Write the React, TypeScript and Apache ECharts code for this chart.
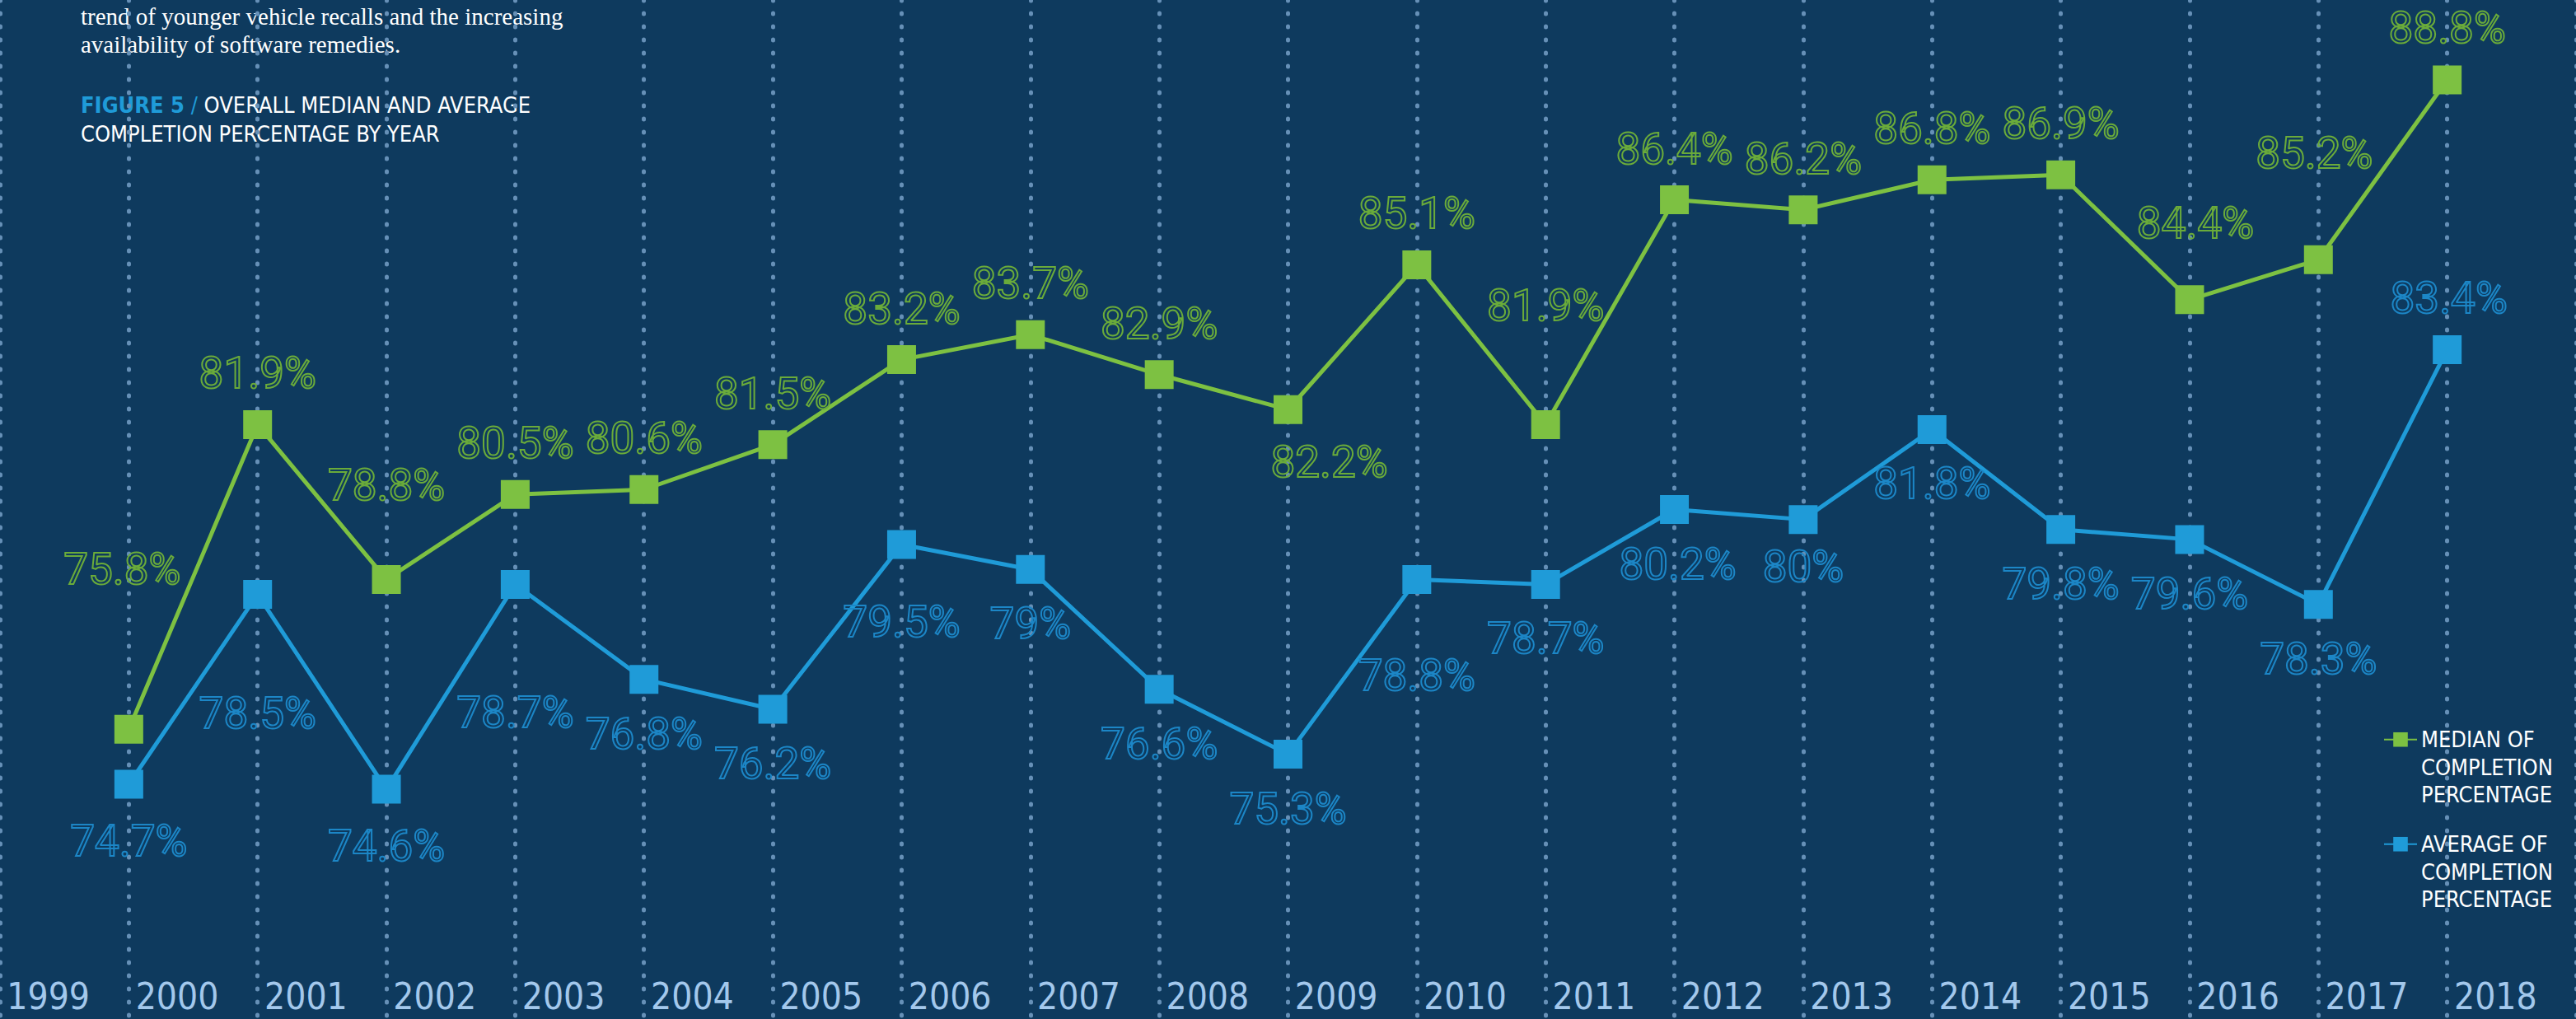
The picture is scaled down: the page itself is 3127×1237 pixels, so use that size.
import React, { useEffect, useRef } from 'react';
import * as echarts from 'echarts';

// ---- data ----
const years = ['1999', '2000', '2001', '2002', '2003', '2004', '2005', '2006', '2007', '2008', '2009', '2010', '2011', '2012', '2013', '2014', '2015', '2016', '2017', '2018'];
const median = [75.8, 81.9, 78.8, 80.5, 80.6, 81.5, 83.2, 83.7, 82.9, 82.2, 85.1, 81.9, 86.4, 86.2, 86.8, 86.9, 84.4, 85.2, 88.8];
const average = [74.7, 78.5, 74.6, 78.7, 76.8, 76.2, 79.5, 79, 76.6, 75.3, 78.8, 78.7, 80.2, 80, 81.8, 79.8, 79.6, 78.3, 83.4];
const medianName = 'MEDIAN OF\nCOMPLETION\nPERCENTAGE';
const averageName = 'AVERAGE OF\nCOMPLETION\nPERCENTAGE';

// ---- label placement (style) ----
const medianLabelDx = [-8, 0, 0, 0, 0, 0, 0, 0, 0, 50, 0, 0, 0, 0, 0, 0, 7, -5, 0];
const medianLabelDy = [-194, -62, -114, -62, -62, -62, -62, -62, -62, 64, -62, -144, -62, -62, -62, -62, -93, -129, -63];
const averageLabelDx = [0, 0, 0, 0, 0, 0, 0, 0, 0, 0, 0, 0, 4, 0, 0, 0, 0, 0, 2];
const averageLabelDy = [69, 144, 69, 156, 66, 66, 94, 66, 66, 66, 117, 66, 66, 57, 66, 66, 66, 66, -62];

// ---- styles ----
const BG = '#0e3a5e';
const GREEN = '#7dc142';
const GREEN_TEXT = '#6aab3a';
const BLUE = '#1f9bd8';
const BLUE_TEXT = '#1c86c6';
const DOT = '#6690b7';
const YEAR_COLOR = '#a3c8ec';
const NARROW = '"Liberation Sans Narrow", "DejaVu Sans Condensed", sans-serif';
const LABEL_FONT = 'Roboto, "DejaVu Sans", sans-serif';

function makeSeries(name: string, values: number[], dx: number[], dy: number[], color: string, textColor: string) {
  return {
    name,
    type: 'line',
    xAxisIndex: 1,
    yAxisIndex: 0,
    data: values.map((v, i) => ({
      value: [i + 1, v],
      label: { offset: [dx[i], dy[i]] },
    })),
    symbol: 'rect',
    symbolSize: 35,
    lineStyle: { color, width: 5 },
    itemStyle: { color },
    label: {
      show: true,
      position: 'inside',
      formatter: (p: any) => p.value[1] + '%',
      color: 'transparent',
      textBorderColor: textColor,
      textBorderWidth: 2,
      fontFamily: LABEL_FONT,
      fontSize: 53,
    },
    emphasis: { disabled: true },
  };
}

export default function App() {
  const ref = useRef<HTMLDivElement>(null);

  useEffect(() => {
    document.body.style.margin = '0';
    const chart = echarts.init(ref.current!, null, { renderer: 'svg' });
    const option: any = {
      animation: false,
      backgroundColor: BG,
      grid: { left: 0, right: -39, top: 0, bottom: -5, containLabel: false },
      xAxis: [
        {
          type: 'category',
          data: years,
          boundaryGap: true,
          position: 'bottom',
          axisLine: { show: false },
          axisTick: { show: false },
          splitLine: {
            show: true,
            interval: 0,
            lineStyle: { color: DOT, width: 5, type: [1, 15], cap: 'round' },
          },
          axisLabel: {
            inside: true,
            interval: 0,
            margin: 28,
            verticalAlign: 'middle',
            color: YEAR_COLOR,
            fontFamily: NARROW,
            fontSize: 44,
            padding: [0, 39, 0, 0],
          },
        },
        { type: 'value', min: 0, max: years.length, show: false },
      ],
      yAxis: [{ type: 'value', min: 70, max: 90.4, show: false }],
      legend: {
        orient: 'vertical',
        left: 2893,
        top: 814,
        padding: 0,
        itemGap: -40.5,
        itemWidth: 40,
        itemHeight: 22,
        selectedMode: false,
        data: [medianName, averageName],
        formatter: (name: string) => '\n\n' + name,
        textStyle: {
          color: '#ffffff',
          fontFamily: NARROW,
          fontSize: 27,
          lineHeight: 33.5,
        },
      },
      graphic: [
        {
          type: 'text',
          x: 98,
          y: 19.5,
          style: {
            text: 'trend of younger vehicle recalls and the increasing',
            fill: '#ffffff',
            fontFamily: '"Liberation Serif", serif',
            fontSize: 29,
            verticalAlign: 'middle',
            align: 'left',
          },
        },
        {
          type: 'text',
          x: 98,
          y: 53.5,
          style: {
            text: 'availability of software remedies.',
            fill: '#ffffff',
            fontFamily: '"Liberation Serif", serif',
            fontSize: 29,
            verticalAlign: 'middle',
            align: 'left',
          },
        },
        {
          type: 'text',
          x: 98,
          y: 127,
          style: {
            text: '{f|FIGURE 5} {s|/} {w|OVERALL MEDIAN AND AVERAGE}',
            verticalAlign: 'middle',
            align: 'left',
            rich: {
              f: { fill: BLUE, fontFamily: NARROW, fontSize: 27, fontWeight: 'bold' },
              s: { fill: BLUE, fontFamily: NARROW, fontSize: 27 },
              w: { fill: '#ffffff', fontFamily: NARROW, fontSize: 27 },
            },
            fill: '#ffffff',
            fontFamily: NARROW,
            fontSize: 27,
          },
        },
        {
          type: 'text',
          x: 98,
          y: 162,
          style: {
            text: 'COMPLETION PERCENTAGE BY YEAR',
            fill: '#ffffff',
            fontFamily: NARROW,
            fontSize: 27,
            verticalAlign: 'middle',
            align: 'left',
          },
        },
      ],
      series: [
        makeSeries(medianName, median, medianLabelDx, medianLabelDy, GREEN, GREEN_TEXT),
        makeSeries(averageName, average, averageLabelDx, averageLabelDy, BLUE, BLUE_TEXT),
      ],
    };
    chart.setOption(option);
    return () => chart.dispose();
  }, []);

  return (
    <div
      ref={ref}
      style={{ position: 'fixed', left: 0, top: 0, width: 3127, height: 1237, background: BG }}
    />
  );
}
